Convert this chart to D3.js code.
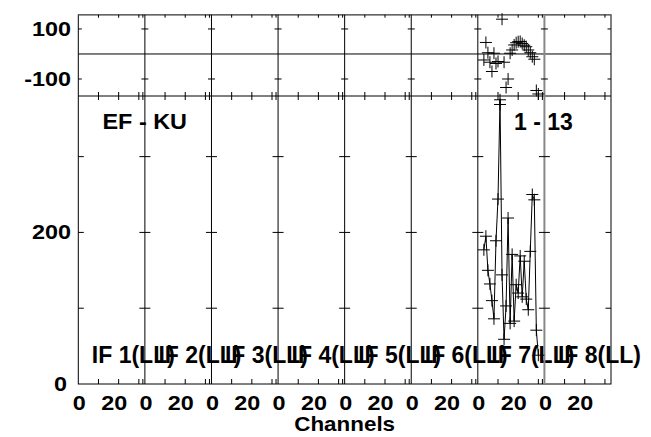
<!DOCTYPE html>
<html>
<head>
<meta charset="utf-8">
<script src="https://cdn.jsdelivr.net/npm/d3@7"></script>
<style>
  body { margin: 0; background: #fff; }
  text { font-family: "Liberation Sans", Arial, sans-serif; font-weight: bold; fill: #000; }
</style>
</head>
<body>
<svg id="chart" width="651" height="437"></svg>
<script>
// IF panels along the channel axis
const IF_NAMES = ["IF 1(LL)", "IF 2(LL)", "IF 3(LL)", "IF 4(LL)", "IF 5(LL)", "IF 6(LL)", "IF 7(LL)", "IF 8(LL)"];
const DATA_IF = "IF 7(LL)";

const CHANNELS = [3, 4, 5, 6, 7, 8, 9, 10, 11, 12, 13, 14, 15, 16, 17, 18, 19, 20, 21, 22, 23, 24, 25, 26, 27, 28, 29, 30];
const AMPLITUDE = [177, 195, 150, 132, 110, 86, 189, 244, 375, 144, 59, 103, 219, 80, 171, 83, 131, 120, 169, 115, 162, 112, 98, 175, 250, 243, 71, 38];
const PHASE = [-24, 46, 5, -33, -70, 3, -38, -30, -202, 139, -33, -134, -100, 3, 16, 36, 45, 49, 50, 42, 35, 29, 16, 5, -11, -21, -146, -160];

// axis ticks and labels
const CHAN_TICKS = [10, 20, 30, 32];
const CHAN_LABELS = [0, 20];
const AMP_TICKS = [100, 200, 300];
const AMP_LABELS = [0, 200];
const PHASE_TICKS = [-100, 100];
const PHASE_LABELS = [100, -100];
const BASELINE_LABEL = "1 - 13";
const SOURCE_LABEL = "EF - KU";
const X_TITLE = "Channels";

const svg = d3.select("#chart");
const L = 78.3, R = 611, T = 14.7, MID = 96, B = 384;

const panel = d3.scaleBand().domain(IF_NAMES).range([L, R]);
const pw = panel.bandwidth();
const chanX = name => d3.scaleLinear().domain([0, 33]).range([panel(name), panel(name) + pw]);
const yPhase = d3.scaleLinear().domain([-168, 157]).range([MID, T]);
const yAmp = d3.scaleLinear().domain([0, 380]).range([B, MID]);

const addText = (x, y, str, size, sx, anchor) => svg.append("text")
  .attr("transform", `translate(${x},${y}) scale(${sx},1)`)
  .attr("text-anchor", anchor || "start")
  .style("font-size", size + "px")
  .text(str);

const line = (x1, y1, x2, y2, color, w) => svg.append("line")
  .attr("x1", x1).attr("y1", y1).attr("x2", x2).attr("y2", y2)
  .attr("stroke", color || "#000").attr("stroke-width", w || 1);

// frames
svg.append("rect").attr("x", L).attr("y", T).attr("width", R - L).attr("height", B - T)
   .attr("fill", "none").attr("stroke", "#000");
line(L, T, R, T, "#666", 1.5);
line(L, MID, R, MID);
line(L, yPhase(0), R, yPhase(0));

// panel dividers with their ticks
IF_NAMES.forEach((name, i) => {
  const x0 = panel(name);
  const x = chanX(name);
  if (i > 0) line(x0, T, x0, B, i === 7 ? "#888" : "#000", i === 7 ? 2 : 1);
  const inL = i === 0 ? 0 : 3.5, inR = 3.5;
  PHASE_TICKS.forEach(v => line(x0 - inL, yPhase(v), x0 + inR, yPhase(v)));
  AMP_TICKS.forEach(v => line(x0 - (i === 0 ? 0 : 5.5), yAmp(v), x0 + 5.5, yAmp(v)));
  CHAN_TICKS.filter(c => i < 7 || c < 31).forEach(c => {
    line(x(c), T, x(c), T + 3);
    line(x(c), MID - 4, x(c), MID + 4);
    line(x(c), B, x(c), B - 5);
  });
  CHAN_LABELS.forEach(c => addText(x(c) + (c === 0 ? 1 : -4.5), 410, String(c), 19.5, 1.2, "middle"));
  addText(x0 + 13.5, 363, name, 23, 1, "start");
});
PHASE_TICKS.forEach(v => line(R - 3.5, yPhase(v), R, yPhase(v)));
AMP_TICKS.forEach(v => line(R - 5.5, yAmp(v), R, yAmp(v)));

// y labels
PHASE_LABELS.forEach(v => addText(71, yPhase(v) + 7, String(v), 19.5, 1.2, "end"));
AMP_LABELS.forEach(v => addText(v === 0 ? 67 : 71, yAmp(v) + 7, String(v), 19.5, 1.2, "end"));

addText(102.5, 128.5, SOURCE_LABEL, 22.5, 1.04, "start");
addText(514, 129.5, BASELINE_LABEL, 23, 1, "start");
addText((L + R) / 2, 431, X_TITLE, 19.5, 1.15, "middle");

// IF 7 data
const x7 = chanX(DATA_IF);
const amp = CHANNELS.map((c, i) => [x7(c), yAmp(AMPLITUDE[i])]);
const pha = CHANNELS.map((c, i) => [x7(c), yPhase(PHASE[i])]);

svg.append("path").attr("d", d3.line()(amp)).attr("fill", "none").attr("stroke", "#000").attr("stroke-width", 1);

const cross = pts => svg.append("g").selectAll("path").data(pts).join("path")
  .attr("d", ([px, py]) => `M${px - 6},${py}H${px + 6}M${px},${py - 6}V${py + 6}`)
  .attr("stroke", "#000").attr("stroke-width", 1).attr("fill", "none");
cross(amp);
cross(pha);
</script>
</body>
</html>
